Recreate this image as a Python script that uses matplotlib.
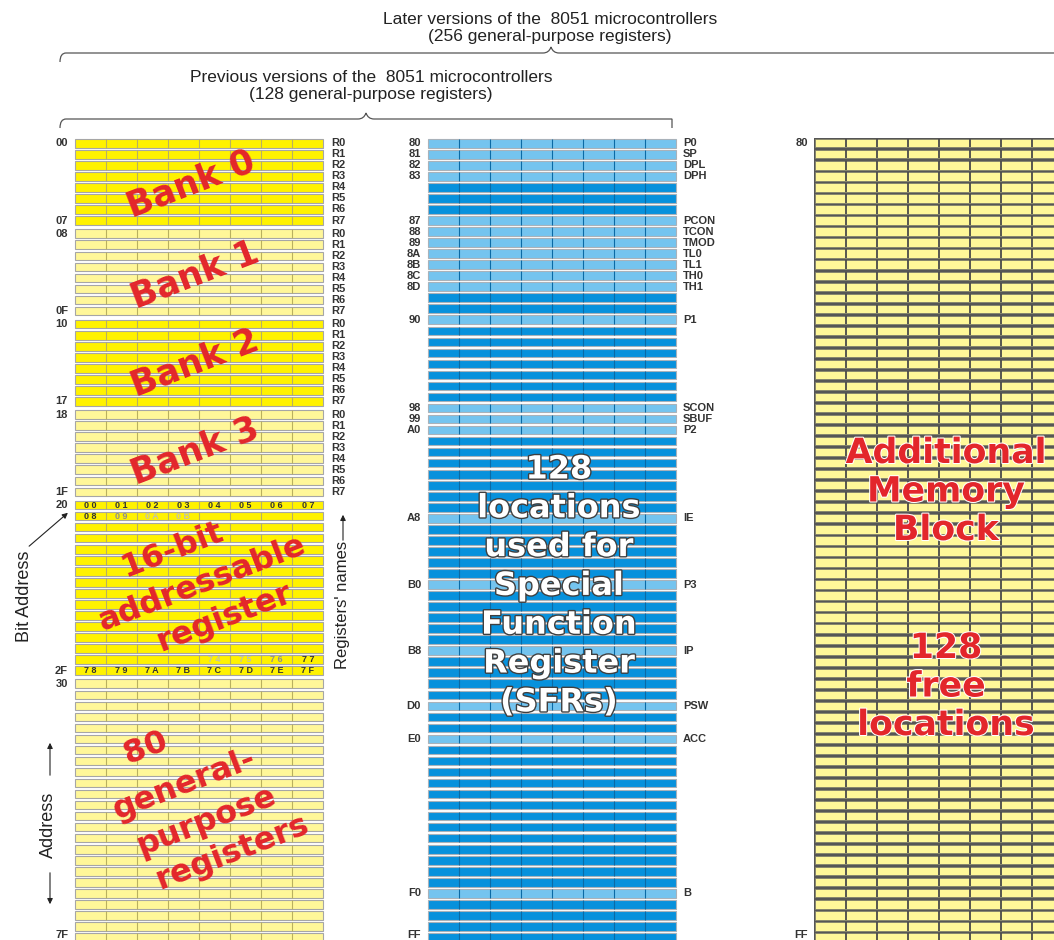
import matplotlib
matplotlib.use('Agg')
import matplotlib.pyplot as plt
import matplotlib.patheffects as pe
from matplotlib.path import Path
from matplotlib.patches import PathPatch

# ---- data ----
left_first = ['00', '08', '10', '18', '20', '30']
left_last = ['07', '0F', '17', '1F', '2F', '7F']
left_sizes = [8, 8, 8, 8, 16, 24]
left_shade = ['bright', 'pale', 'bright', 'pale', 'bright', 'pale']
bank_regs = ['R0', 'R1', 'R2', 'R3', 'R4', 'R5', 'R6', 'R7']
bank_names = ['Bank 0', 'Bank 1', 'Bank 2', 'Bank 3']

# bit addresses shown inside the bit-addressable rows (row offset inside group 20..2F)
bit_rows = [0, 1, 14, 15]
bit_labels = [
    ['00', '01', '02', '03', '04', '05', '06', '07'],
    ['08', '09', '0A', '0B', '', '', '', ''],
    ['', '', '', '', '74', '75', '76', '77'],
    ['78', '79', '7A', '7B', '7C', '7D', '7E', '7F'],
]
bit_fade = [
    [0, 0, 0, 0, 0, 0, 0, 0],
    [0, 1, 2, 2, 0, 0, 0, 0],
    [0, 0, 0, 0, 2, 2, 1, 0],
    [0, 0, 0, 0, 0, 0, 0, 0],
]

sfr_total_rows = 73
sfr_row = [0, 1, 2, 3, 7, 8, 9, 10, 11, 12, 13, 16, 24, 25, 26, 34, 40, 46, 51, 54, 68]
sfr_addr = ['80', '81', '82', '83', '87', '88', '89', '8A', '8B', '8C', '8D', '90',
            '98', '99', 'A0', 'A8', 'B0', 'B8', 'D0', 'E0', 'F0']
sfr_name = ['P0', 'SP', 'DPL', 'DPH', 'PCON', 'TCON', 'TMOD', 'TL0', 'TL1', 'TH0', 'TH1', 'P1',
            'SCON', 'SBUF', 'P2', 'IE', 'P3', 'IP', 'PSW', 'ACC', 'B']
sfr_end = 'FF'
extra_first, extra_last = '80', 'FF'

sfr_text = ['128', 'locations', 'used for', 'Special', 'Function', 'Register', '(SFRs)']
extra_text = ['Additional', 'Memory', 'Block']
free_text = ['128', 'free', 'locations']
bit_text = ['16-bit', 'addressable', 'register']
gp_text = ['80', 'general-', 'purpose', 'registers']

top_title = ['Later versions of the  8051 microcontrollers', '(256 general-purpose registers)']
mid_title = ['Previous versions of the  8051 microcontrollers', '(128 general-purpose registers)']

# ---- layout ----
pitch = 11.03
y0 = 143.3
cell_h = 8.6
cell_w = 31.1
ncell = 8
gap = 0.2
left_x0, mid_x0, right_x0 = 74.5, 427.5, 814.5

BRIGHT = '#FFF200'
PALE = '#FFF799'
DARKBLUE = '#0791DC'
LIGHTBLUE = '#74C4EF'
RED = '#E3262B'
GREY = '#333333'

fig = plt.figure(figsize=(10.54, 9.40), dpi=100)
ax = fig.add_axes([0, 0, 1, 1])
ax.set_xlim(0, 1054)
ax.set_ylim(940, 0)
ax.axis('off')


def draw_rows(x0, centers, faces, edge, div, lw=0.8, h=cell_h, div_lw=None):
    tops = [c - h / 2 for c in centers]
    ax.bar([x0] * len(centers), [h] * len(centers), width=cell_w * ncell, bottom=tops,
           align='edge', color=faces, edgecolor=edge, linewidth=lw, zorder=2)
    for i in range(1, ncell):
        ax.vlines([x0 + i * cell_w] * len(tops), tops, [t + h for t in tops],
                  colors=div, linewidth=div_lw or lw, zorder=3)


def brace(xa, xb, xt, y, d=9):
    verts = [(xa, y + d), (xa, y), (xa + 6, y), (xa + 10, y),
             (xt - 8, y), (xt - 2, y), (xt, y - 6),
             (xt + 2, y), (xt + 8, y), (xb - 10, y),
             (xb - 6, y), (xb, y), (xb, y + d)]
    codes = [Path.MOVETO, Path.CURVE3, Path.CURVE3, Path.LINETO,
             Path.LINETO, Path.CURVE3, Path.CURVE3,
             Path.CURVE3, Path.CURVE3, Path.LINETO,
             Path.CURVE3, Path.CURVE3, Path.LINETO]
    ax.add_patch(PathPatch(Path(verts, codes), fill=False, edgecolor='#555555', lw=0.9))


lab = dict(fontsize=8, fontweight='bold', color=GREY, family='Liberation Sans', va='center')
lab_end = dict(lab, va='bottom')

# ---- left column: 00..7F ----
row = 0
group_centers = []
for g, n in enumerate(left_sizes):
    centers = [y0 + (row + k + g * gap) * pitch for k in range(n)]
    group_centers.append(centers)
    row += n
    face = BRIGHT if left_shade[g] == 'bright' else PALE
    draw_rows(left_x0, centers, [face] * n, '#A6A6A6', '#B9B060')
    ax.text(68, centers[0], left_first[g], ha='right', **lab)
    if g < len(left_sizes) - 1:
        ax.text(68, centers[-1], left_last[g], ha='right', **lab)
    else:
        ax.text(68, 940, left_last[g], ha='right', **lab_end)
    if g < 4:
        for k, r in enumerate(bank_regs):
            ax.text(331, centers[k], r, ha='left', **lab)

fade_col = ['#333333', '#8E8E8E', '#C2C2A8']
for r, labels, fades in zip(bit_rows, bit_labels, bit_fade):
    for i, (t, f) in enumerate(zip(labels, fades)):
        if t:
            ax.text(left_x0 + (i + 0.5) * cell_w, group_centers[4][r], ' '.join(t),
                    ha='center', va='center', fontsize=6.5, fontweight='bold',
                    color=fade_col[f], family='Liberation Sans', zorder=4)

# ---- middle column: SFRs 80..FF ----
mid_centers = [y0 + k * pitch for k in range(sfr_total_rows)]
mid_faces = [LIGHTBLUE if k in sfr_row else DARKBLUE for k in range(sfr_total_rows)]
draw_rows(mid_x0, mid_centers, mid_faces, '#A9B2BA', '#0B6AA5')
for r, a, nme in zip(sfr_row, sfr_addr, sfr_name):
    ax.text(421, mid_centers[r], a, ha='right', **lab)
    ax.text(683, mid_centers[r], nme, ha='left', **lab)
ax.text(421, 940, sfr_end, ha='right', **lab_end)

# ---- right column: additional memory (dark grid behind pale cells) ----
col_top = mid_centers[0] - pitch / 2 + 0.5
ax.bar([right_x0 - 1], [mid_centers[-1] + pitch / 2 - col_top], width=cell_w * ncell + 2,
       bottom=[col_top], align='edge', color='#565656', linewidth=0, zorder=1)
draw_rows(right_x0, mid_centers, [PALE] * sfr_total_rows, '#7A7A6A', '#4A4A4A',
          lw=0.5, h=8.3, div_lw=1.3)
ax.text(808, mid_centers[0], extra_first, ha='right', **lab)
ax.text(808, 940, extra_last, ha='right', **lab_end)

# ---- big captions ----
red = dict(color=RED, fontweight='heavy', family='DejaVu Sans', ha='center', va='center', zorder=6)
bank_centers = [(191, 184), (195, 275), (195, 363), (195, 451)]
for nm, (cx, cy) in zip(bank_names, bank_centers):
    ax.text(cx, cy, nm, fontsize=25, rotation=21, **red)
bit_pos = [(172, 550), (202, 584), (225, 618)]
for t, (cx, cy) in zip(bit_text, bit_pos):
    ax.text(cx, cy, t, fontsize=23, rotation=21, **red)
gp_pos = [(146, 748), (184, 785), (206, 821), (232, 853)]
for t, (cx, cy) in zip(gp_text, gp_pos):
    ax.text(cx, cy, t, fontsize=23, rotation=21, **red)

outline = [pe.withStroke(linewidth=2.0, foreground='#3F3F3F')]
for i, t in enumerate(sfr_text):
    ax.text(559, 470 + i * 38.8, t, fontsize=23, color='white', fontweight='bold',
            family='DejaVu Sans', ha='center', va='center', zorder=6, path_effects=outline)

white_edge = [pe.withStroke(linewidth=1.5, foreground='white')]
for i, t in enumerate(extra_text):
    ax.text(946, 453 + i * 38.5, t, fontsize=25, path_effects=white_edge, **red)
for i, t in enumerate(free_text):
    ax.text(946, 648 + i * 38.5, t, fontsize=25, path_effects=white_edge, **red)

# ---- side labels and arrows ----
side = dict(fontsize=13, color='#222222', family='Liberation Sans', rotation=90,
            ha='center', va='center')
ax.text(25, 596, 'Bit Address', **side)
ax.text(343, 605, "Registers' names", fontsize=12, color='#222222', family='Liberation Sans',
        rotation=90, ha='center', va='center')
ax.text(48, 825, 'Address', **side)
arrow = dict(arrowstyle='-|>', color='#222222', lw=0.8, mutation_scale=8)
ax.annotate('', xy=(70, 511), xytext=(27, 548), arrowprops=arrow)
ax.annotate('', xy=(343, 512), xytext=(343, 543), arrowprops=arrow)
ax.annotate('', xy=(50, 740), xytext=(50, 778), arrowprops=arrow)
ax.annotate('', xy=(50, 907), xytext=(50, 870), arrowprops=arrow)

# ---- titles and braces ----
ttl = dict(fontsize=12.5, color='#222222', family='Liberation Sans', ha='center', va='center')
ax.text(550, 19, top_title[0], **ttl)
ax.text(550, 37, top_title[1], **ttl)
ax.text(371, 77, mid_title[0], **ttl)
ax.text(371, 95, mid_title[1], **ttl)
brace(60, 1064, 551, 53)
brace(60, 672, 366, 119)

fig.savefig('out.png', dpi=100)
